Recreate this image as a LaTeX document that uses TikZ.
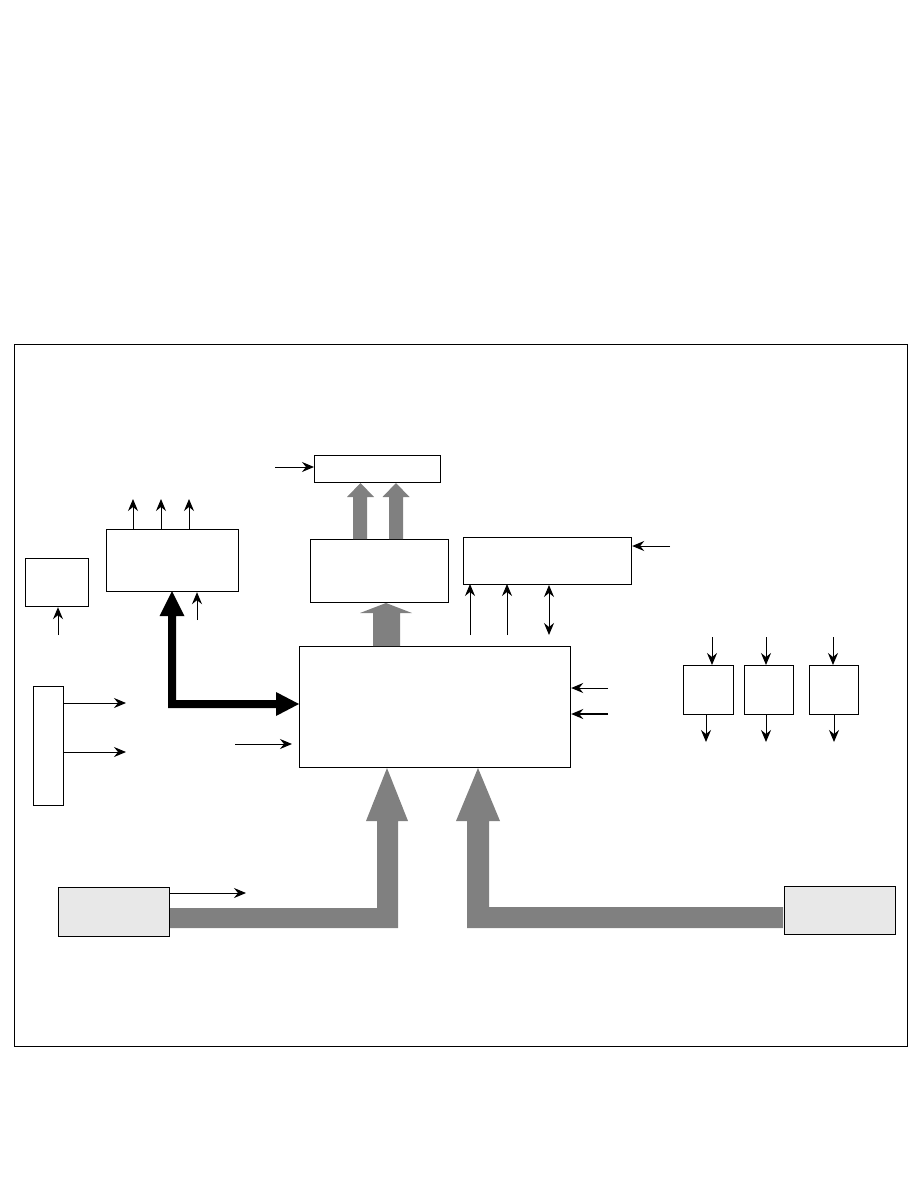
\documentclass[tikz,border=0pt]{standalone}
\usetikzlibrary{arrows.meta}
\definecolor{busgray}{HTML}{808080}
\definecolor{boxgray}{HTML}{E8E8E8}
\begin{document}
\begin{tikzpicture}[x=1pt,y=-1pt,
  blk/.style={draw=black,line width=1.2pt,fill=white,inner sep=0pt},
  gblk/.style={draw=black,line width=1.2pt,fill=boxgray,inner sep=0pt},
  sig/.style={line width=1pt,-{Stealth[length=12pt,width=10pt,inset=4pt]}},
  sigb/.style={line width=1pt,{Stealth[length=12pt,width=10pt,inset=4pt]}-{Stealth[length=12pt,width=10pt,inset=4pt]}},
  bus/.style={fill=busgray,draw=none},
  tbus/.style={fill=black,draw=none}]
\useasboundingbox (0,0) rectangle (918,1188);
\draw[line width=1pt] (14,344) rectangle (907,1046);

% boxes: corner-based nodes
\newcommand{\bx}[6]{\node[#1,minimum width=#4pt,minimum height=#5pt,anchor=north west] (#6) at (#2,#3) {};}
\bx{blk}{25}{558}{63}{48}{small}
\bx{blk}{106}{529}{132}{62}{left}
\bx{blk}{314}{455}{126}{27}{top}
\bx{blk}{310}{539}{138}{63}{mid}
\bx{blk}{463}{537}{168}{47}{right}
\bx{blk}{299}{646}{271}{121}{main}
\bx{blk}{33}{686}{30}{119}{vbox}
\bx{gblk}{58}{887}{111}{49}{srcl}
\bx{gblk}{784}{886}{111}{48}{srcr}
\bx{blk}{683}{665}{50}{49}{sa}
\bx{blk}{744}{665}{49}{49}{sb}
\bx{blk}{809}{665}{49}{49}{sc}

% free ends
\coordinate (c1) at (58,635);
\coordinate (c2) at (197,620);
\coordinate (c3) at (275,467);
\coordinate (c4) at (670,546);
\coordinate (c5) at (608,688);
\coordinate (c6) at (608,714);
\coordinate (c7) at (235,744);
\coordinate (c8) at (126,703);
\coordinate (c9) at (126,752);
\coordinate (c10) at (246,893);

% thin signals
\draw[sig] (c1) -- (small.south -| c1);
\draw[sig] (c2) -- (left.south -| c2);
\foreach \x in {133,161,189} \draw[sig] (\x,529) -- (\x,499);
\draw[sig] (c3) -- (c3 -| top.west);
\draw[sig] (c4) -- (c4 -| right.east);
\draw[sig] (470,635) -- (470,584);
\draw[sig] (507,635) -- (507,584);
\draw[sigb] (549,585) -- (549,635);
\draw[sig] (c5) -- (c5 -| main.east);
\draw[sig,line width=1.8pt] (c6) -- (c6 -| main.east);
\draw[sig] (c7) -- (292,744);
\draw[sig] (vbox.east |- c8) -- (c8);
\draw[sig] (vbox.east |- c9) -- (c9);
\draw[sig] (srcl.east |- c10) -- (c10);
\foreach \xi/\xo/\n in {712/706/sa,766/766/sb,833/834/sc}{
  \draw[sig] (\xi,637) -- (\xi,665);
  \draw[sig] (\xo,714) -- (\xo,742);
}

% thick black bus
\fill[tbus] (172,591) -- (184.5,616) -- (176,616) -- (176,700) -- (276,700) -- (276,692)
  -- (main.west |- 0,704) -- (276,716) -- (276,708) -- (168,708) -- (168,616) -- (159.5,616) -- cycle;

% gray buses
\fill[bus] (386,603) -- (412,613) -- (400,613) -- (400,646) -- (373,646) -- (373,613) -- (360,613) -- cycle;
\fill[bus] (360.5,483) -- (374,497) -- (367,497) -- (367,539) -- (353,539) -- (353,497) -- (347,497) -- cycle;
\fill[bus] (396,483) -- (409.5,497) -- (403,497) -- (403,539) -- (389,539) -- (389,497) -- (382.5,497) -- cycle;
\fill[bus] (387,768) -- (408,821) -- (398,821) -- (398,928) -- (170,928) -- (170,908) -- (377,908) -- (377,821) -- (366,821) -- cycle;
\fill[bus] (478,768) -- (500,821) -- (489,821) -- (489,907) -- (783,907) -- (783,928) -- (467,928) -- (467,821) -- (456,821) -- cycle;
\end{tikzpicture}
\end{document}
